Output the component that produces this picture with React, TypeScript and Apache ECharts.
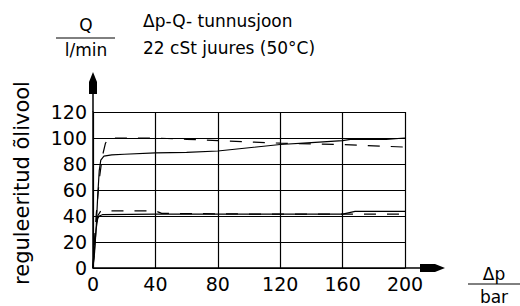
import React, { useEffect, useRef } from "react";
import * as echarts from "echarts";

const xTicks = [0, 40, 80, 120, 160, 200];
const yTicks = [0, 20, 40, 60, 80, 100, 120];
const yName = "reguleeritud õlivool";

const upperSolid = [
  [0, 0], [1, 12], [2, 30], [3, 55], [4, 75], [5, 83], [7, 86], [12, 87], [20, 87.5],
  [40, 88.5], [60, 89], [80, 90], [100, 92.5], [120, 95], [140, 96.5], [160, 98],
  [165, 99], [188, 99], [200, 100],
];
const upperDashed = [
  [0, 0], [2, 40], [4, 68], [6, 86], [8, 96], [10, 100], [40, 100], [60, 99],
  [80, 98], [100, 97], [120, 96], [160, 95], [200, 93],
];
const lowerSolid = [
  [0, 0], [1, 15], [2, 30], [3, 38], [4, 40], [6, 41], [40, 41.5], [100, 41.5],
  [160, 41.5], [168, 43.5], [200, 43.5],
];
const lowerDashed = [
  [0, 0], [1, 22], [2, 32], [3, 40], [5, 44], [40, 44], [44, 42], [100, 41.5], [200, 41.5],
];

export default function App() {
  const ref = useRef<HTMLDivElement>(null);
  useEffect(() => {
    if (!ref.current) return;
    const chart = echarts.init(ref.current, undefined, { renderer: "svg" });
    const font = "DejaVu Sans";
    const line = (data: number[][], dashed: boolean) => ({
      type: "line",
      data,
      showSymbol: false,
      symbol: "none",
      lineStyle: { color: "#000", width: 1.2, type: dashed ? [12, 11] : "solid" },
    });
    chart.setOption({
      animation: false,
      backgroundColor: "#fff",
      grid: { left: 93, right: 115, top: 112, bottom: 38 },
      xAxis: {
        type: "value",
        min: xTicks[0],
        max: xTicks[xTicks.length - 1],
        interval: 40,
        axisLine: { show: true, lineStyle: { color: "#000", width: 1.5 } },
        axisTick: { show: false },
        splitLine: { show: true, lineStyle: { color: "#000", width: 1.2 } },
        axisLabel: { color: "#000", fontFamily: font, fontSize: 19, margin: 6 },
      },
      yAxis: {
        type: "value",
        min: yTicks[0],
        max: yTicks[yTicks.length - 1],
        interval: 20,
        axisLine: { show: true, lineStyle: { color: "#000", width: 1.5 } },
        axisTick: { show: false },
        splitLine: { show: true, lineStyle: { color: "#000", width: 1.2 } },
        axisLabel: { color: "#000", fontFamily: font, fontSize: 19, margin: 6 },
      },
      series: [
        line(upperSolid, false),
        line(upperDashed, true),
        line(lowerSolid, false),
        line(lowerDashed, true),
      ],
      graphic: [
        { type: "text", x: 22, y: 183, rotation: Math.PI / 2, style: { text: yName, fill: "#000", font: `21px ${font}`, textAlign: "center", textVerticalAlign: "middle" } },
        { type: "line", shape: { x1: 93, y1: 112, x2: 93, y2: 80 }, style: { stroke: "#000", lineWidth: 1.5 } },
        { type: "polygon", shape: { points: [[93, 72], [97, 82], [97, 94], [89, 94], [89, 82]] }, style: { fill: "#000" } },
        { type: "line", shape: { x1: 405, y1: 268, x2: 440, y2: 268 }, style: { stroke: "#000", lineWidth: 1.5 } },
        { type: "polygon", shape: { points: [[445, 268], [435, 272], [420, 272], [420, 264], [435, 264]] }, style: { fill: "#000" } },
        { type: "text", x: 86, y: 25, style: { text: "Q", fill: "#000", font: `17px ${font}`, textAlign: "center", textVerticalAlign: "middle" } },
        { type: "line", shape: { x1: 56, y1: 38, x2: 115, y2: 38 }, style: { stroke: "#000", lineWidth: 1 } },
        { type: "text", x: 86, y: 50, style: { text: "l/min", fill: "#000", font: `17px ${font}`, textAlign: "center", textVerticalAlign: "middle" } },
        { type: "text", x: 143, y: 21, style: { text: "Δp-Q- tunnusjoon", fill: "#000", font: `17px ${font}`, textAlign: "left", textVerticalAlign: "middle" } },
        { type: "text", x: 143, y: 48, style: { text: "22 cSt juures (50°C)", fill: "#000", font: `17px ${font}`, textAlign: "left", textVerticalAlign: "middle" } },
        { type: "text", x: 494, y: 274, style: { text: "Δp", fill: "#000", font: `17px ${font}`, textAlign: "center", textVerticalAlign: "middle" } },
        { type: "line", shape: { x1: 468, y1: 284, x2: 520, y2: 284 }, style: { stroke: "#000", lineWidth: 1 } },
        { type: "text", x: 494, y: 297, style: { text: "bar", fill: "#000", font: `17px ${font}`, textAlign: "center", textVerticalAlign: "middle" } },
      ],
    });
    return () => chart.dispose();
  }, []);
  return <div ref={ref} style={{ width: 520, height: 306, position: "absolute", left: 0, top: 0 }} />;
}
